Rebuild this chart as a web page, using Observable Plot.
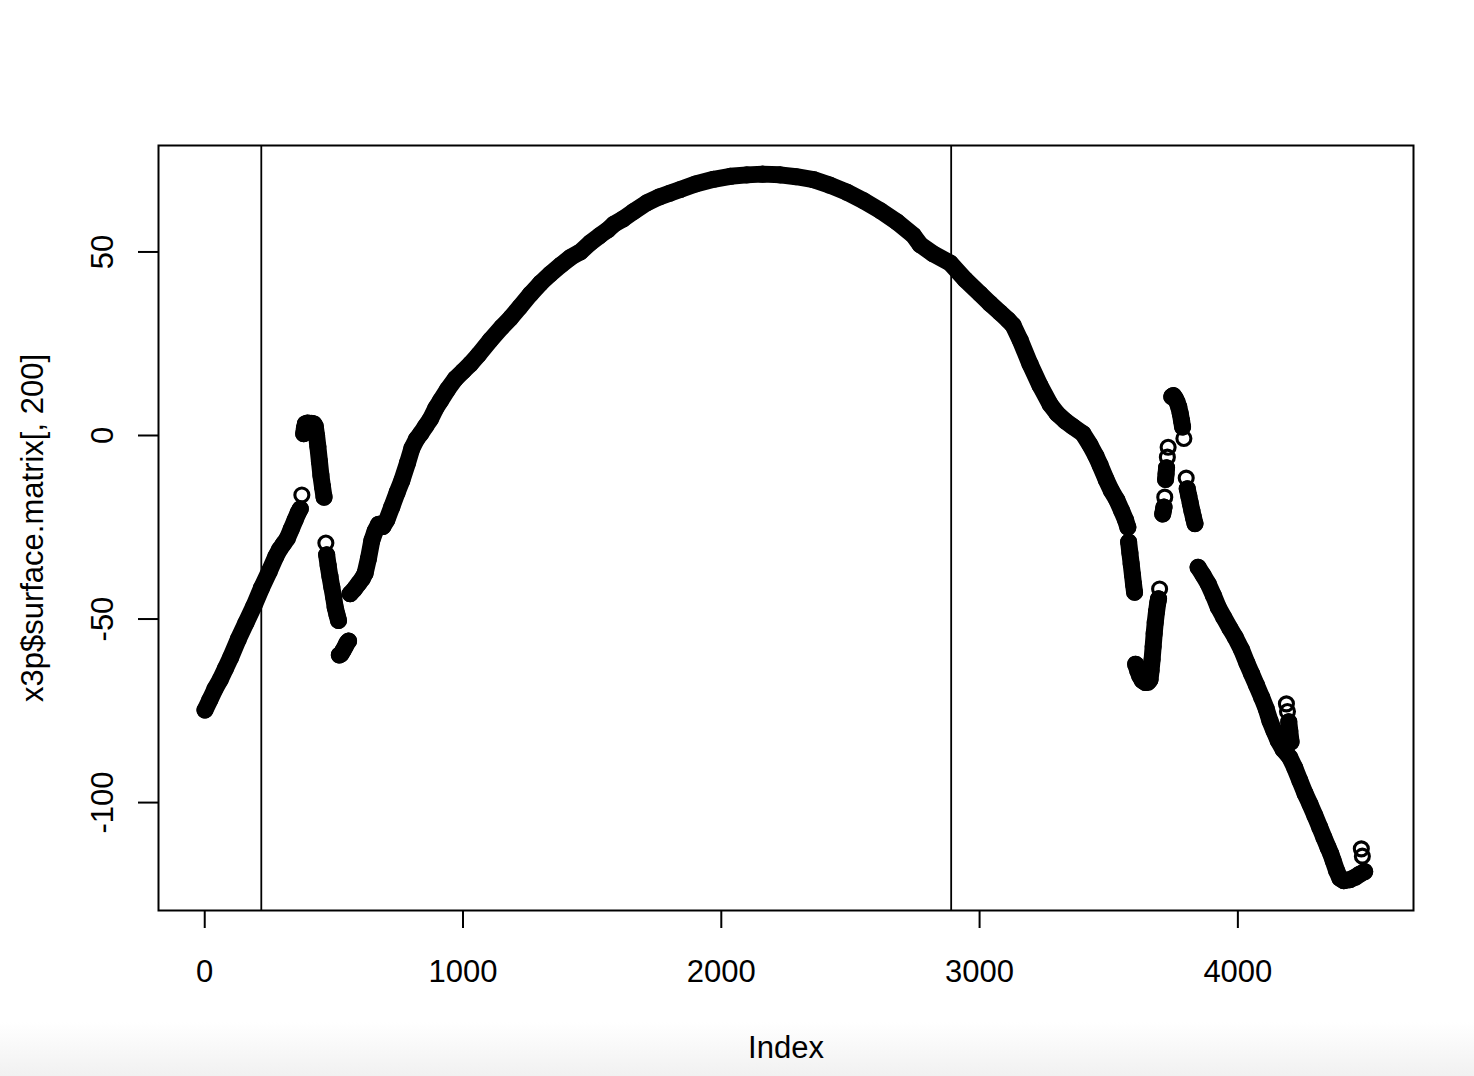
<!DOCTYPE html>
<html><head><meta charset="utf-8">
<script src="https://cdn.jsdelivr.net/npm/d3@7"></script>
<script src="https://cdn.jsdelivr.net/npm/@observablehq/plot@0.6"></script>
<style>
html,body{margin:0;padding:0;overflow:hidden;}
body{width:1474px;height:1076px;background:linear-gradient(to bottom,#ffffff 0px,#ffffff 1022px,#f1f1f1 1076px);font-family:"Liberation Sans",Arial,sans-serif;}
</style></head><body><div id="chart"></div>
<script>
// Index positions of the plotted points
const pointIndex = [
  // A: left ramp
  1,20,40,60,80,100,130,160,190,220,250,275,290,305,320,335,350,362,370,
  // A2: lone circle
  376,
  // B: high block
  383,386,390,398,406,414,422,428,433,438,444,450,456,462,
  // C0 ring + C stack
  469, 472,478,485,492,499,505,512,518,
  // D blob
  521,528,536,544,551,557,
  // E arch
  563,580,596,610,621,634,647,660,673,690,705,724,745,763,785,802,820,836,855,874,895,913,940,971,
  1000,1029,1060,1106,1150,1184,1220,1261,1300,1338,1380,1416,1454,1493,1530,1560,1583,1620,1660,1712,
  1760,1800,1841,1900,1970,2035,2099,2160,2228,2290,2357,2420,2486,2550,2615,2680,2744,2770,2820,2886,
  2944,3002,3040,3079,3110,3130,3157,3195,3234,3273,3300,3331,3360,3400,3427,3450,3466,3490,3510,3531,
  3550,3565,3574,
  // F stack
  3577,3582,3587,3592,3596,3600,
  // G bottom blob + rising stack, G0 ring
  3604,3612,3620,3630,3642,3652,3660,3664,3668,3672,3676,3680,3685,3690,3693, 3697,
  // H stack + ring
  3709,3712,3714, 3717,
  // I stack + rings
  3720,3722,3724, 3727, 3730,
  // J top blob + ring
  3744,3750,3757,3764,3771,3777,3782,3786, 3791,
  // K0 ring + K stack
  3800, 3804,3810,3816,3822,3828,3834,
  // L final descent
  3846,3865,3885,3905,3924,3945,3969,3990,4014,4035,4053,4072,4092,4110,4124,4140,4156,4175,4201,4220,
  4240,4260,4279,4298,4317,4333,4349,4360,4369,4382,4395,4410,4433,4455,4472,4491,
  // M bump rings + M stack
  4188, 4192, 4197,4201,4206,
  // N end rings
  4478, 4482
];

// Surface values x3p$surface.matrix[, 200] at those indices
const pointValue = [
  -74.8,-72,-69,-66.5,-63.5,-60.5,-55.5,-51,-46.5,-41.5,-37,-33,-31,-29.5,-28,-25.5,-23,-21,-20,
  -16.2,
  0.5,2,3.2,3.4,3.3,3.3,3.2,2.5,0,-3,-7,-11,-14,-16.8,
  -29.3, -32.5,-35.5,-38.5,-41.3,-44,-46.8,-48.8,-50.4,
  -59.8,-59.5,-58.5,-57.5,-56.5,-56,
  -43.1,-41.8,-40.3,-39,-37.5,-33.5,-28.6,-26,-24.2,-24.8,-23,-19.5,-15.5,-12.3,-7.5,-3.5,-1,0.5,2.5,4.5,7.5,9.5,12.5,15.5,
  17.5,19.5,22,26,29.5,32,35,38.5,41.5,44,46.5,48.5,50,52.5,54.5,56,57.5,59,61,63.4,
  65,66,67,68.5,69.8,70.6,71,71.2,71,70.5,69.7,68.2,66.3,64,61.3,58.2,54.5,52,49.5,47,
  42.5,38.6,36,33.5,31.5,30,26,19.5,13.6,8.5,6,4,2.5,0.5,-2.5,-5.5,-8,-12,-15,-17.5,
  -20.5,-23,-25,
  -29,-32,-35,-38,-40.5,-42.7,
  -62.3,-64,-65.5,-66.7,-67.3,-67.2,-66.5,-64,-61,-57.5,-54,-51,-48,-45.5,-44.5, -41.8,
  -21.4,-20.3,-19.5, -16.8,
  -12,-10.5,-8.8, -5.9, -3.2,
  10.6,10.9,10.2,9.2,7.8,6,4,2.3, -0.8,
  -11.6, -14.5,-16.5,-18.5,-20.5,-22.3,-24,
  -35.9,-38,-40.4,-43.5,-46.8,-49.5,-52.5,-55,-58.3,-62,-64.9,-68,-71.3,-74.5,-77.7,-80.5,-83.1,-85.5,-87.7,-90.5,
  -94,-97.5,-100.4,-103.5,-106.7,-109.5,-112.2,-114,-115.8,-118.5,-120.6,-121.3,-121,-120.3,-119.5,-118.8,
  -73.1, -75.2, -78,-80.5,-83.5,
  -112.6, -114.6
];

// Runs (contiguous visual strokes) and how many consecutive points each holds
const runNames   = ["A","A2","B","C0","C","D","E","F","G","G0","H","H0","I","I0","I1","J","J0","K0","K","L","M0","M1","M","N0","N1"];
const runLengths = [19, 1,   14,  1,   8,  6,  87,  6,  15,  1,   3,  1,   3,  1,   1,   8,  1,   1,   6,  36,  1,   1,   3,  1,   1];

const xTicks = [0, 1000, 2000, 3000, 4000];
const yTicks = [-100, -50, 0, 50];
const markerLines = [219, 2890];
const xTitle = "Index";
const yTitle = "x3p$surface.matrix[, 200]";

const pointRun = runNames.flatMap((name, k) => Array(runLengths[k]).fill(name));
const data = pointIndex.map((i, k) => ({i, v: pointValue[k], run: pointRun[k]}));
const counts = d3.rollup(data, g => g.length, d => d.run);
const lineData = data.filter(d => counts.get(d.run) > 1);

const chart = Plot.plot({
  width: 1474, height: 1076,
  marginLeft: 158, marginRight: 61, marginTop: 145, marginBottom: 166,
  x: {domain: [-179, 4680]},
  y: {domain: [-129.4, 79]},
  style: {background: "transparent", fontFamily: "'Liberation Sans', Arial, sans-serif", fontSize: "31px", color: "black"},
  marks: [
    Plot.ruleX(markerLines, {stroke: "black", strokeWidth: 1.8}),
    Plot.line(lineData, {x: "i", y: "v", z: "run", stroke: "black", strokeWidth: 17, strokeLinecap: "round", strokeLinejoin: "round"}),
    Plot.dot(data, {x: "i", y: "v", r: 7, stroke: "black", strokeWidth: 3.1, fill: "none"}),
    Plot.frame({stroke: "black", strokeWidth: 2}),
    Plot.axisX(xTicks, {tickSize: 18, tickPadding: 31, fontSize: 31, label: null, strokeWidth: 2, tickFormat: d => String(d)}),
    Plot.axisY(yTicks, {tickSize: 20, tickFormat: () => "", label: null, strokeWidth: 2}),
    Plot.text(yTicks, {y: d => d, text: d => String(d), frameAnchor: "left", dx: -46, rotate: -90, textAnchor: "middle", lineAnchor: "bottom", fontSize: 31}),
    Plot.text([yTitle], {frameAnchor: "left", dx: -116, rotate: -90, textAnchor: "middle", lineAnchor: "bottom", fontSize: 31}),
    Plot.text([xTitle], {frameAnchor: "bottom", dy: 147, textAnchor: "middle", lineAnchor: "bottom", fontSize: 31})
  ]
});
document.getElementById("chart").appendChild(chart);
</script></body></html>
